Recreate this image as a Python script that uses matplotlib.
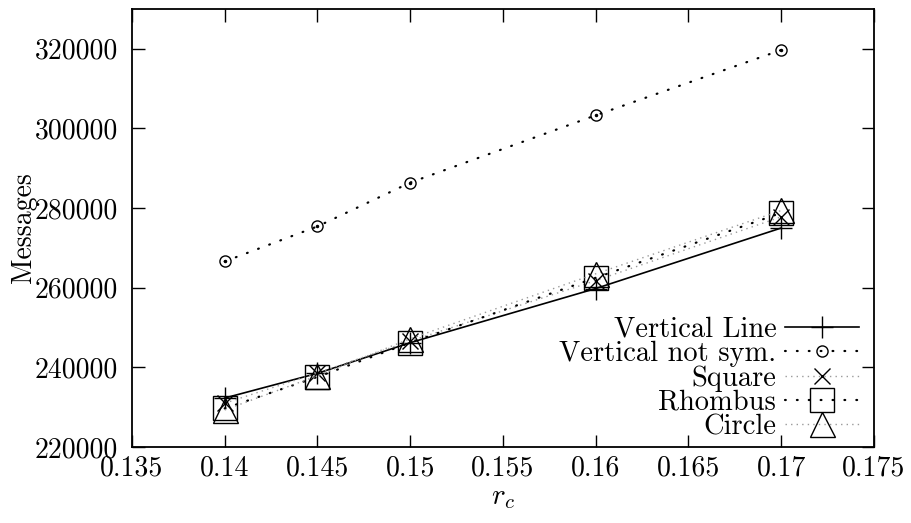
import matplotlib
matplotlib.use("Agg")
from matplotlib import pyplot as plt

plt.rcParams['font.family'] = 'cmr10'
plt.rcParams['mathtext.fontset'] = 'cm'
plt.rcParams['axes.formatter.use_mathtext'] = True
plt.rcParams['axes.unicode_minus'] = False

rc = [0.14, 0.145, 0.15, 0.16, 0.17]
vertical_line = [232300, 238500, 246200, 259800, 275000]
vertical_not_sym = [266600, 275400, 286400, 303300, 319700]
square = [231000, 238600, 246600, 261800, 277800]
rhombus = [229700, 237600, 246200, 262500, 278800]
circle = [229300, 237900, 247200, 263500, 279400]

xticks = [0.135, 0.14, 0.145, 0.15, 0.155, 0.16, 0.165, 0.17, 0.175]
xticklabels = ['0.135', '0.14', '0.145', '0.15', '0.155', '0.16', '0.165', '0.17', '0.175']
yticks = [220000, 240000, 260000, 280000, 300000, 320000]

fig = plt.figure(figsize=(9.12, 5.23), dpi=100)
ax = fig.add_axes([0.1447, 0.1453, 0.8136, 0.8375])

# gnuplot-like dotted patterns
dark_dots = (0, (0.35, 5.0))
light_dots = (0, (1, 3))

ax.plot(rc, vertical_line, color='black', linewidth=1.2, marker='+',
        markersize=16, markeredgewidth=1.0, label='Vertical Line')
ax.plot(rc, vertical_not_sym, color='black', linewidth=1.6, linestyle=dark_dots,
        dash_capstyle='round', marker='o', markersize=8, markerfacecolor='none',
        markeredgewidth=1.0, label='Vertical not sym.')
ax.plot(rc, vertical_not_sym, color='black', linestyle='none', marker='.',
        markersize=3)
ax.plot(rc, square, color='#9a9a9a', linewidth=1.0, linestyle=light_dots,
        marker='x', markersize=12, markeredgecolor='black',
        markeredgewidth=1.0, label='Square')
ax.plot(rc, rhombus, color='black', linewidth=1.6, linestyle=dark_dots,
        dash_capstyle='round', marker='s', markersize=17,
        markerfacecolor='none', markeredgewidth=1.0, label='Rhombus')
ax.plot(rc, circle, color='#9a9a9a', linewidth=1.0, linestyle=light_dots,
        marker='^', markersize=18, markerfacecolor='none',
        markeredgecolor='black', markeredgewidth=1.0, label='Circle')

ax.set_xlim(0.135, 0.175)
ax.set_ylim(220000, 330000)
ax.set_xticks(xticks)
ax.set_xticklabels(xticklabels)
ax.set_yticks(yticks)
ax.set_yticklabels([str(v) for v in yticks])
ax.tick_params(direction='in', length=9, width=1.0, labelsize=20,
               top=True, right=True)
ax.tick_params(axis='y', pad=10)
ax.tick_params(axis='x', pad=6)
for s in ax.spines.values():
    s.set_linewidth(1.3)

ax.set_xlabel(r'$r_c$', fontsize=21, labelpad=2)
ax.set_ylabel('Messages', fontsize=20)
ax.yaxis.set_label_coords(-0.128, 0.5)

leg = ax.legend(loc='lower right', bbox_to_anchor=(1.0065, -0.03),
                markerfirst=False, frameon=False, fontsize=20.5,
                handlelength=2.6, handletextpad=0.3, labelspacing=-0.07,
                borderpad=0.2)

plt.savefig('out.png', dpi=100)
